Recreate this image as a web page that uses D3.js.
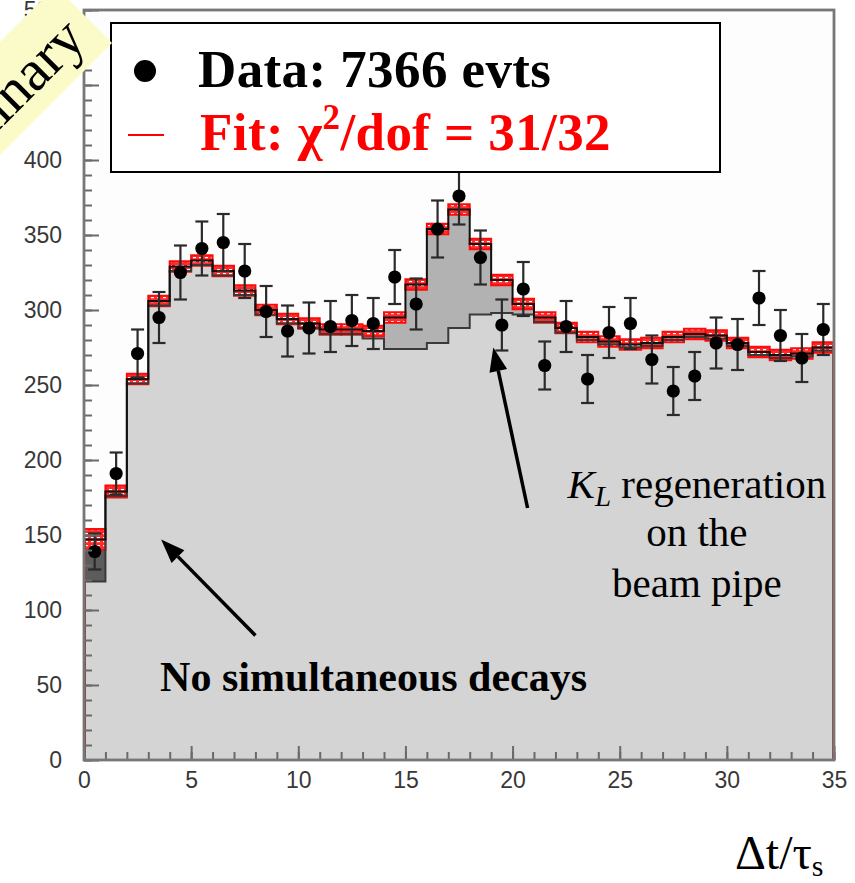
<!DOCTYPE html>
<html>
<head>
<meta charset="utf-8">
<script src="https://cdn.jsdelivr.net/npm/d3@7"></script>
<style>
  html, body { margin: 0; padding: 0; background: #fff; }
  svg { display: block; }
</style>
</head>
<body>
<script>
// Δt/τs histogram: 35 bins of unit width from 0 to 35
const binEdges = d3.range(0, 36);

// Data counts per bin and their statistical errors
const dataCounts = [139, 191, 271, 295, 325, 341, 345, 326, 299, 286, 288, 289, 293, 291, 322,
                    304, 354, 376, 335, 290, 314, 263, 289, 254, 285, 291, 267, 246, 256, 278,
                    277, 308, 283, 268, 287];
const dataErrors = [12, 14, 16, 17, 18, 18, 19, 18, 17, 17, 17, 17, 17, 17, 18,
                    17, 19, 19, 18, 17, 18, 16, 17, 16, 17, 17, 16, 16, 16, 17,
                    17, 18, 17, 16, 17];

// Total fit and its uncertainty band
const fitTotal = [147, 179, 254, 306, 329, 333, 326, 313, 300, 294, 291, 287, 287, 286, 295,
                  317, 354, 367, 344, 320, 304, 295, 288, 282, 279, 277, 278, 282, 284, 283,
                  278, 272, 270, 271, 275];
const fitError = [7, 4, 3.5, 3.5, 3.5, 3.5, 3.5, 3.5, 3.5, 3.5, 3.5, 3.5, 3.5, 3.5, 3.5,
                  3.5, 3.5, 3.5, 3.5, 3.5, 3.5, 3.5, 3.5, 3.5, 3.5, 3.5, 3.5, 3.5, 3.5, 3.5,
                  3.5, 3.5, 3.5, 3.5, 3.5];

// Stacked components (cumulative tops): no simultaneous decays, + K_L regeneration
const noSimulTop = [119, 176, 251, 303, 326, 330, 323, 310, 297, 291, 288, 284, 284, 281, 274,
                    274, 278, 288, 297, 298, 297, 292, 285, 280, 277, 275, 276, 280, 282, 281,
                    276, 270, 268, 269, 273];
const regenTop   = [119, 179, 254, 306, 329, 333, 326, 313, 300, 294, 291, 287, 287, 286, 295,
                    317, 354, 367, 344, 320, 304, 295, 288, 282, 279, 277, 278, 282, 284, 283,
                    278, 272, 270, 271, 275];

// Axis ticks
const xMajorTicks = [0, 5, 10, 15, 20, 25, 30, 35];
const yMajorTicks = [0, 50, 100, 150, 200, 250, 300, 350, 400, 450, 500];

const W = 855, H = 883;
const svg = d3.select("body").append("svg").attr("width", W).attr("height", H);

const x = d3.scaleLinear().domain([0, 35]).range([84, 834]);
const y = d3.scaleLinear().domain([0, 500]).range([760, 10]);

const serif = "'Liberation Serif', 'Times New Roman', Times, serif";
const sans = "'Liberation Sans', Arial, Helvetica, sans-serif";

// hatched fill for the fit uncertainty band
const defs = svg.append("defs");
const pat = defs.append("pattern").attr("id", "bandFill")
  .attr("patternUnits", "userSpaceOnUse").attr("width", 6).attr("height", 4);
pat.append("rect").attr("width", 6).attr("height", 4).attr("fill", "#ff2a2a");
pat.append("rect").attr("x", 1).attr("y", 1).attr("width", 3).attr("height", 1.2).attr("fill", "#fff");

// step helpers: value of bin i spans [i, i+1)
const stepPts = arr => arr.map((v, i) => [binEdges[i], v]).concat([[binEdges[arr.length], arr[arr.length - 1]]]);
const stepLine = d3.line().x(d => x(d[0])).y(d => y(d[1])).curve(d3.curveStepAfter);
const stepArea = (lo, hi) => d3.area()
  .x((d, i) => x(binEdges[i]))
  .y0((d, i) => y(lo(Math.min(i, 34))))
  .y1((d, i) => y(hi(Math.min(i, 34))))
  .curve(d3.curveStepAfter)(binEdges);

// plot background
svg.append("rect").attr("x", x(0)).attr("y", y(500)).attr("width", x(35) - x(0)).attr("height", y(0) - y(500))
  .attr("fill", "#fdfdfd");

// component fills
svg.append("path").attr("d", stepArea(() => 0, i => noSimulTop[i])).attr("fill", "#d4d4d4");
svg.append("path").attr("d", stepArea(i => noSimulTop[i], i => regenTop[i])).attr("fill", "#b2b2b2");
svg.append("path").attr("d", stepArea(i => regenTop[i], i => fitTotal[i])).attr("fill", "#5c5c5c");

// fit uncertainty band
svg.append("g").selectAll("rect").data(fitTotal).join("rect")
  .attr("x", (d, i) => x(binEdges[i]))
  .attr("width", (d, i) => x(binEdges[i + 1]) - x(binEdges[i]))
  .attr("y", (d, i) => y(d + fitError[i]))
  .attr("height", (d, i) => y(d - fitError[i]) - y(d + fitError[i]))
  .attr("fill", "url(#bandFill)")
  .attr("stroke", "#ff0a0a").attr("stroke-width", 2);

// component outline and fit line
svg.append("path").attr("d", stepLine(stepPts(noSimulTop))).attr("fill", "none")
  .attr("stroke", "#3a3a3a").attr("stroke-width", 2);
svg.append("path").attr("d", stepLine(stepPts(fitTotal))).attr("fill", "none")
  .attr("stroke", "#111").attr("stroke-width", 2);

// histogram edges at the ends of the range
svg.append("line").attr("x1", x(0) + 1).attr("x2", x(0) + 1).attr("y1", y(0)).attr("y2", y(fitTotal[0]))
  .attr("stroke", "#a03030").attr("stroke-width", 2);
svg.append("line").attr("x1", x(35) - 1).attr("x2", x(35) - 1).attr("y1", y(0)).attr("y2", y(fitTotal[34]))
  .attr("stroke", "#a04040").attr("stroke-width", 2);

// data points with error bars
const mid = i => x(binEdges[i] + 0.5);
const pts = svg.append("g");
dataCounts.forEach((v, i) => {
  const e = dataErrors[i];
  pts.append("line").attr("x1", mid(i)).attr("x2", mid(i)).attr("y1", y(v - e)).attr("y2", y(v + e))
    .attr("stroke", "#2a2a2a").attr("stroke-width", 2.2);
  [v - e, v + e].forEach(t => pts.append("line")
    .attr("x1", mid(i) - 6.5).attr("x2", mid(i) + 6.5).attr("y1", y(t)).attr("y2", y(t))
    .attr("stroke", "#2a2a2a").attr("stroke-width", 2.2));
  pts.append("circle").attr("cx", mid(i)).attr("cy", y(v)).attr("r", 6.6).attr("fill", "#000");
});

// axes
const axisColor = "#6a6a6a";
function styleAxis(g) {
  g.selectAll(".domain").remove();
  g.selectAll(".tick line").attr("stroke", axisColor).attr("stroke-width", 2);
  g.selectAll(".tick text").attr("fill", "#383838").attr("font-family", sans).attr("font-size", 23);
}
svg.append("g").attr("transform", `translate(${x(0)},0)`)
  .call(d3.axisLeft(y).tickValues(d3.range(0, 501, 10)).tickSizeInner(-8).tickSizeOuter(0).tickFormat(""))
  .call(styleAxis);
svg.append("g").attr("transform", `translate(${x(0)},0)`)
  .call(d3.axisLeft(y).tickValues(yMajorTicks).tickSizeInner(-15).tickSizeOuter(0).tickPadding(22).tickFormat(d3.format("d")))
  .call(styleAxis);
svg.append("g").attr("transform", `translate(0,${y(0)})`)
  .call(d3.axisBottom(x).tickValues(d3.range(0, 36, 1)).tickSizeInner(-8).tickSizeOuter(0).tickFormat(""))
  .call(styleAxis);
svg.append("g").attr("transform", `translate(0,${y(0)})`)
  .call(d3.axisBottom(x).tickValues(xMajorTicks).tickSizeInner(-14).tickSizeOuter(0).tickPadding(12).tickFormat(d3.format("d")))
  .call(styleAxis);

// frame
svg.append("rect").attr("x", x(0)).attr("y", y(500)).attr("width", x(35) - x(0)).attr("height", y(0) - y(500))
  .attr("fill", "none").attr("stroke", "#777").attr("stroke-width", 2.8);

// legend
const lg = svg.append("g");
lg.append("rect").attr("x", 111).attr("y", 23).attr("width", 609).attr("height", 149)
  .attr("fill", "#fff").attr("stroke", "#000").attr("stroke-width", 2);
lg.append("circle").attr("cx", 145).attr("cy", 71).attr("r", 11).attr("fill", "#000");
lg.append("text").attr("x", 198).attr("y", 87).attr("font-family", serif).attr("font-weight", "bold")
  .attr("font-size", 53).attr("letter-spacing", 0.4).attr("fill", "#000").text("Data: 7366 evts");
lg.append("line").attr("x1", 128).attr("x2", 164).attr("y1", 135).attr("y2", 135)
  .attr("stroke", "#ff0000").attr("stroke-width", 2);
const fitTxt = lg.append("text").attr("x", 200).attr("y", 150).attr("font-family", serif)
  .attr("font-weight", "bold").attr("font-size", 53).attr("letter-spacing", 0.4).attr("fill", "#ff0000");
fitTxt.append("tspan").text("Fit: χ");
fitTxt.append("tspan").attr("dy", -21).attr("font-size", 35).text("2");
fitTxt.append("tspan").attr("dy", 21).text("/dof = 31/32");

// annotations
function arrow(x1, y1, x2, y2) {
  const X1 = x(x1), Y1 = y(y1), X2 = x(x2), Y2 = y(y2);
  const ang = Math.atan2(Y2 - Y1, X2 - X1);
  const L = 24, Wd = 9;
  const bx = X2 - L * Math.cos(ang), by = Y2 - L * Math.sin(ang);
  svg.append("line").attr("x1", X1).attr("y1", Y1).attr("x2", bx).attr("y2", by)
    .attr("stroke", "#000").attr("stroke-width", 3.5);
  svg.append("path").attr("d", `M${X2},${Y2}L${bx - Wd * Math.sin(ang)},${by + Wd * Math.cos(ang)}L${bx + Wd * Math.sin(ang)},${by - Wd * Math.cos(ang)}Z`)
    .attr("fill", "#000");
}
arrow(8.0, 83, 3.6, 147);
arrow(20.7, 168, 19.1, 275);

svg.append("text").attr("x", x(3.55)).attr("y", y(46)).attr("font-family", serif).attr("font-weight", "bold")
  .attr("font-size", 42).attr("fill", "#000").text("No simultaneous decays");

const ann = svg.append("text").attr("font-family", serif).attr("font-size", 41).attr("fill", "#000")
  .attr("text-anchor", "middle");
const t1 = ann.append("tspan").attr("x", x(28.6)).attr("y", y(175));
t1.append("tspan").attr("font-style", "italic").text("K");
t1.append("tspan").attr("font-style", "italic").attr("font-size", 29).attr("dy", 8).text("L");
t1.append("tspan").attr("dy", -8).text(" regeneration");
ann.append("tspan").attr("x", x(28.6)).attr("y", y(142.5)).text("on the");
ann.append("tspan").attr("x", x(28.6)).attr("y", y(108.5)).text("beam pipe");

// x-axis title
const xt = svg.append("text").attr("x", 735).attr("y", 869).attr("font-family", serif)
  .attr("font-size", 48).attr("fill", "#000");
xt.append("tspan").text("Δt/τ");
xt.append("tspan").attr("font-size", 30).attr("dy", 7).text("s");

// Preliminary tag in the corner
const tag = svg.append("g").attr("transform", "translate(112,43) rotate(-45)");
tag.append("rect").attr("x", -440).attr("y", -80).attr("width", 440).attr("height", 80).attr("fill", "#fbfbc9");
tag.append("text").attr("x", -16).attr("y", -18).attr("text-anchor", "end").attr("font-family", serif)
  .attr("font-size", 58).attr("fill", "#000").text("Preliminary");
</script>
</body>
</html>
